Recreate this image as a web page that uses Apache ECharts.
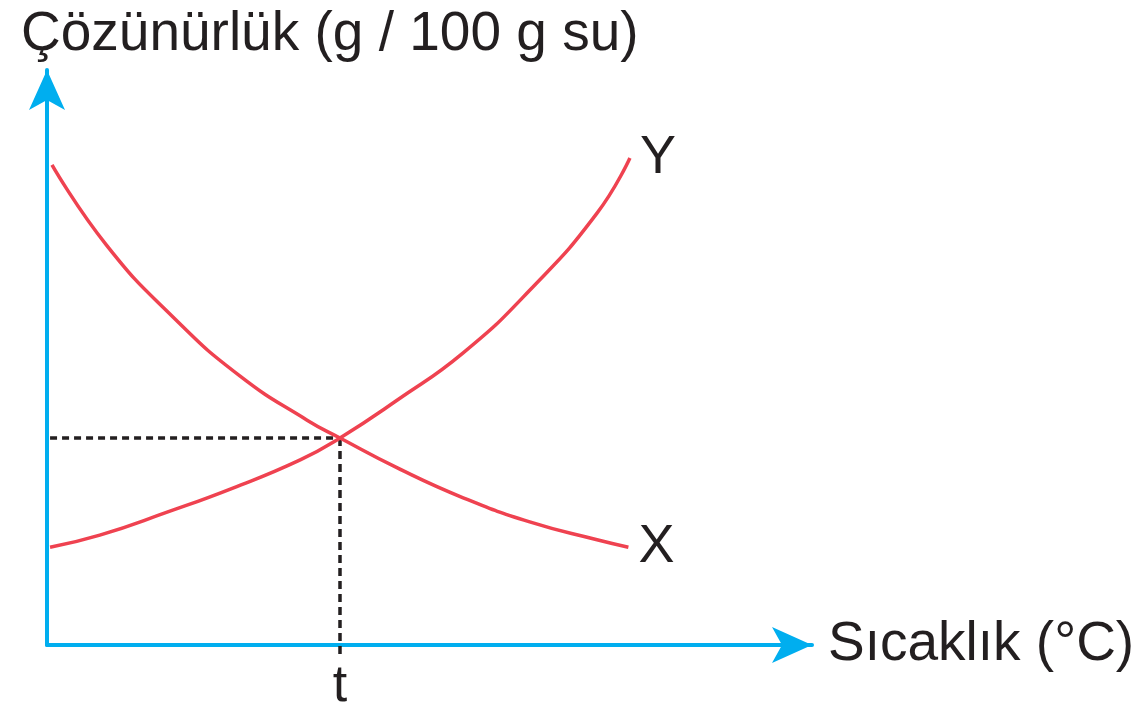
<!DOCTYPE html>
<html lang="tr">
<head>
<meta charset="UTF-8">
<style>
    html, body { height: 100%; margin: 0; background: #fff; }
</style>
</head>
<body>
<div id="chart" style="width:1138px;height:716px;"></div>
<script src="https://cdn.jsdelivr.net/npm/echarts@6/dist/echarts.min.js"></script>
<script>
    // X: solubility falls with temperature, Y: rises (arbitrary units 0-100)
    var xTemps = [0.65, 7.8, 16.5, 25.2, 34.0, 38.3, 45.8, 54.4, 63.1, 71.9, 76.0];
    var xSolub = [83.5, 69.5, 57.0, 46.8, 39.1, 36.0, 30.8, 25.6, 21.4, 18.3, 17.0];

    var yTemps = [0.4, 6.9, 15.7, 24.3, 33.1, 38.3, 45.8, 54.4, 63.1, 71.9, 76.2];
    var ySolub = [17.0, 19.1, 23.1, 27.3, 32.2, 36.0, 42.6, 50.8, 61.7, 75.1, 84.7];

    // crossing point (temperature t)
    var tTemp = 38.3;
    var tSolub = 36.0;
    var tickLabels = ['t'];

    var red = '#EF4250';
    var blue = '#00AEEF';
    var ink = '#231F20';
    var font = "'Liberation Sans', Arial, sans-serif";

    function pairs(xs, ys) {
        var out = [];
        for (var i = 0; i < xs.length; i++) {
            out.push([xs[i], ys[i]]);
        }
        return out;
    }

    var endLabel = {
        show: true,
        formatter: '{a}',
        distance: 10,
        fontFamily: font,
        fontSize: 54,
        color: ink
    };

    var myChart = echarts.init(document.getElementById('chart'));
    myChart.setOption({
        animation: false,
        backgroundColor: '#fff',
        title: {
            text: 'Çözünürlük (g / 100 g su)',
            left: 16,
            top: 2,
            textStyle: { fontFamily: font, fontSize: 55, fontWeight: 'normal', color: ink }
        },
        grid: { left: 47, right: 326, top: 70, bottom: 71, outerBoundsMode: 'none', containLabel: false },
        xAxis: {
            type: 'value',
            min: 0,
            max: 100,
            name: 'Sıcaklık (°C)',
            nameLocation: 'end',
            nameGap: 16,
            nameTextStyle: { fontFamily: font, fontSize: 55, color: ink },
            axisLine: {
                show: true,
                symbol: ['none', 'arrow'],
                symbolSize: [27, 40],
                lineStyle: { color: blue, width: 4 }
            },
            axisTick: { show: false },
            splitLine: { show: false },
            axisLabel: {
                show: true,
                customValues: [tTemp],
                formatter: function () { return tickLabels[0]; },
                margin: 16,
                fontFamily: font,
                fontSize: 52,
                color: ink
            }
        },
        yAxis: {
            type: 'value',
            min: 0,
            max: 100,
            axisLine: {
                show: true,
                symbol: ['none', 'arrow'],
                symbolSize: [27, 40],
                lineStyle: { color: blue, width: 4 }
            },
            axisTick: { show: false },
            axisLabel: { show: false },
            splitLine: { show: false }
        },
        series: [
            {
                name: 'X',
                type: 'line',
                smooth: true,
                showSymbol: false,
                data: pairs(xTemps, xSolub),
                lineStyle: { color: red, width: 3.5 },
                endLabel: endLabel,
                z: 3
            },
            {
                name: 'Y',
                type: 'line',
                smooth: true,
                showSymbol: false,
                data: pairs(yTemps, ySolub),
                lineStyle: { color: red, width: 3.5 },
                endLabel: endLabel,
                z: 3
            },
            {
                name: 'guideH',
                type: 'line',
                showSymbol: false,
                silent: true,
                data: [[0.4, tSolub], [tTemp, tSolub]],
                lineStyle: { color: ink, width: 3.5, type: [7, 5] },
                z: 2
            },
            {
                name: 'guideV',
                type: 'line',
                showSymbol: false,
                silent: true,
                clip: false,
                data: [[tTemp, tSolub], [tTemp, -1.75]],
                lineStyle: { color: ink, width: 3.5, type: [8, 5] },
                z: 2
            }
        ]
    });
</script>
</body>
</html>
